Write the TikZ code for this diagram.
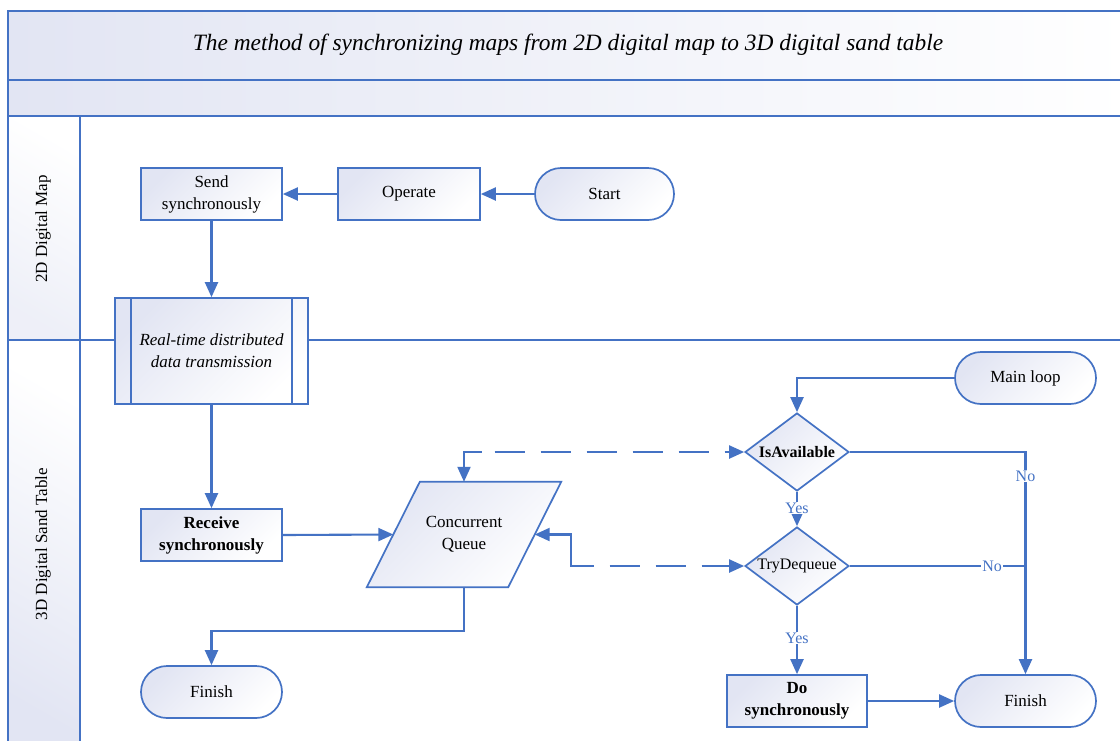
\documentclass[tikz,border=0pt]{standalone}
\usepackage{fontspec}
\setmainfont{Liberation Serif}
\usetikzlibrary{arrows.meta,calc,shapes.geometric}
\definecolor{lnblue}{RGB}{68,114,196}
\definecolor{lav}{RGB}{226,229,243}

\begin{document}
\begin{tikzpicture}[x=1pt,y=-1pt,
  txt/.style={font=\fontsize{17}{22}\selectfont, text=black, align=center},
  grad/.style={top color=lav, bottom color=white, shading angle=45},
  box/.style={draw=lnblue, line width=1.7pt, grad, txt, minimum width=141pt, minimum height=52pt, inner sep=0pt},
  term/.style={box, rounded corners=26pt},
  dec/.style={draw=lnblue, line width=1.7pt, grad, diamond, aspect=1.33, minimum width=104pt, minimum height=78pt, inner sep=0pt, text=black, font=\fontsize{16}{18}\selectfont},
  flow/.style={draw=lnblue, line width=2.1pt, arrows={-Triangle[length=15pt,width=13pt]}},
  dflow/.style={draw=lnblue, line width=2.1pt, arrows={Triangle[length=15pt,width=13pt]-Triangle[length=15pt,width=13pt]}, dash pattern=on 30pt off 16pt},
  line/.style={draw=lnblue, line width=2.1pt},
  lbl/.style={fill=white, text=lnblue, font=\fontsize{16}{18}\selectfont, inner sep=1pt},
  lane/.style={draw=lnblue, line width=1.6pt}
]
\fill[white] (0,0) rectangle (1120,740);
\useasboundingbox (0,0) rectangle (1120,740);
\clip (0,0) rectangle (1120,740);

% header bands and lane frame
\shade[left color=lav, right color=white] (8,11) rectangle (1130,80);
\shade[left color=lav, right color=white] (8,80) rectangle (1130,116);
\shade[top color=white, bottom color=lav!60, shading angle=-30] (8,116) rectangle (80,340);
\shade[top color=white, bottom color=lav, shading angle=-30] (8,340) rectangle (80,760);
\draw[lane] (1130,11) -- (8,11) -- (8,760);
\draw[lane] (8,80) -- (1130,80);
\draw[lane] (8,116) -- (1130,116);
\draw[lane] (80,116) -- (80,760);
\draw[lane] (8,340) -- (1130,340);

\node[font=\itshape\fontsize{23.4}{26}\selectfont] (title) at (568,45)
  {The method of synchronizing maps from 2D digital map to 3D digital sand table};
\node[txt, rotate=90] (lanetop) at (43,229) {2D Digital Map};
\node[txt, rotate=90] (lanebot) at (43,544) {3D Digital Sand Table};

% 2D digital map lane
\node[box] (send) at (211.5,194) {Send\\synchronously};
\node[box, minimum width=142pt] (operate) at (409,194) {Operate};
\node[term, minimum width=139pt] (start) at (604.5,194) {Start};

% transmission block spanning both lanes
\node[box, minimum width=193pt, minimum height=106pt, font=\itshape\fontsize{17}{22}\selectfont] (rt) at (211.5,351)
  {Real-time distributed\\data transmission};
\draw[lnblue, line width=1.7pt] ([xshift=17pt]rt.north west) -- ([xshift=17pt]rt.south west);
\draw[lnblue, line width=1.7pt] ([xshift=-17pt]rt.north east) -- ([xshift=-17pt]rt.south east);

% 3D digital sand table lane
\node[box, font=\bfseries\fontsize{17}{22}\selectfont] (recv) at (211.5,535) {Receive\\synchronously};
\node[minimum width=141pt, minimum height=105pt, inner sep=0pt] (queue) at (464,534.5) {};
\shade[grad, draw=lnblue, line width=1.7pt]
  ($(queue.north west)+(26.5,0)$) -- ($(queue.north east)+(26.5,0)$) --
  ($(queue.south east)+(-26.5,0)$) -- ($(queue.south west)+(-26.5,0)$) -- cycle;
\node[txt] (queuetext) at (queue.center) {Concurrent\\Queue};
\node[term] (fin1) at (211.5,692) {Finish};

\node[term] (main) at (1025.5,378) {Main loop};
\node[dec, font=\bfseries\fontsize{16}{18}\selectfont] (isav) at (797,452) {IsAvailable};
\node[dec] (tryd) at (797,566) {TryDequeue};
\node[box, minimum width=140pt, font=\bfseries\fontsize{17}{22}\selectfont] (dosync) at (797,701) {Do\\synchronously};
\node[term] (fin2) at (1025.5,701) {Finish};

% connectors
\draw[flow] (start.west) -- (operate.east);
\draw[flow] (operate.west) -- (send.east);
\draw[flow] (send.south) -- (rt.north);
\draw[flow] (rt.south) -- (recv.north);
\draw[flow] (recv.east) -- (queue.west);
\draw[flow] (queue.south) -- ++(0,44) -| (fin1.north);
\draw[flow] (main.west) -| (isav.north);
\draw[flow] (isav.south) -- node[lbl, pos=0.47] {Yes} (tryd.north);
\draw[flow] (tryd.south) -- node[lbl, pos=0.47] {Yes} (dosync.north);
\draw[flow] (dosync.east) -- (fin2.west);
\draw[flow] (isav.east) -| node[lbl, pos=0.554] {No} (fin2.north);
\draw[line] (tryd.east) -- node[lbl, pos=0.81] {No} (tryd.east -| fin2.north);

% dashed two-way links between the queue and the decisions
\draw[dflow] (queue.north) |- (isav.west);
\draw[line] (queue.north) ++(0,-12) |- ++(18,-18);
\draw[dflow] (queue.east) -- ++(36.5,0) |- (tryd.west);
\draw[line] (queue.east) ++(14,0) -- ++(22.5,0) -- ++(0,31.5) -- ++(19,0);
\end{tikzpicture}
\end{document}
